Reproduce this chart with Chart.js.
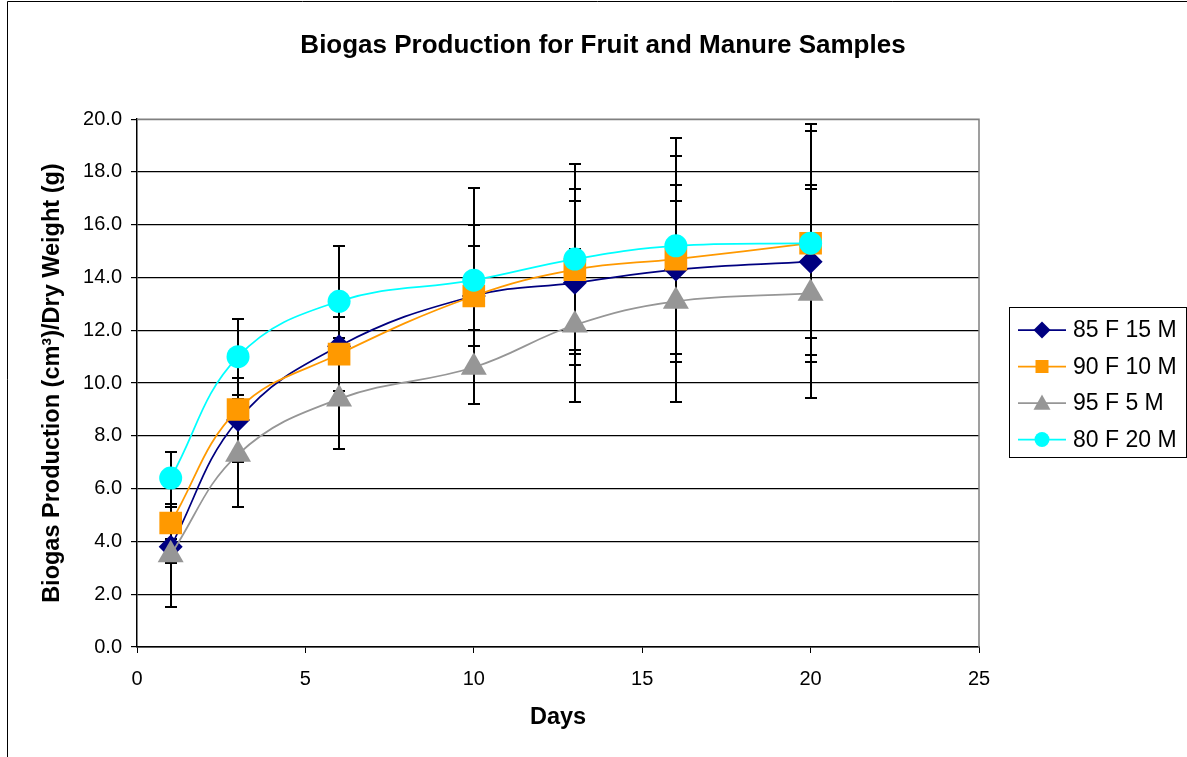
<!DOCTYPE html>
<html lang="en">
<head>
<meta charset="utf-8">
<title>Biogas Production for Fruit and Manure Samples</title>
<script src="https://cdn.jsdelivr.net/npm/chart.js@4.4.1/dist/chart.umd.min.js"></script>
<style>
  html, body { margin: 0; padding: 0; background: #fff; }
  #contenedor { width: 1187px; height: 757px; }
</style>
</head>
<body>
<div id="contenedor"><canvas id="grafica" width="1187" height="757"></canvas></div>
<script>
// Datos: dias y produccion de biogas por mezcla
const dias = [1, 3, 6, 10, 13, 16, 20];

const mezcla85F15M = [3.8, 8.6, 11.4, 13.3, 13.8, 14.3, 14.6];
const mezcla90F10M = [4.7, 9.0, 11.1, 13.3, 14.3, 14.7, 15.3];
const mezcla95F5M = [3.5, 7.3, 9.4, 10.6, 12.2, 13.1, 13.4];
const mezcla80F20M = [6.4, 11.0, 13.1, 13.9, 14.7, 15.2, 15.3];

// barras de error (+/-) de cada mezcla
const error85F15M = [2.3, 1.6, 0.3, 1.9, 3.1, 3.2, 2.9];
const error90F10M = [0.6, 0.4, 1.4, 2.7, 3.05, 3.9, 4.25];
const error95F5M = [0.3, 2.0, 1.9, 1.4, 2.9, 3.8, 3.95];
const error80F20M = [1.0, 1.44, 2.1, 3.5, 3.6, 4.1, 4.5];

const etiquetas = ['85 F 15 M', '90 F 10 M', '95 F 5 M', '80 F 20 M'];
const ticksX = [0, 5, 10, 15, 20, 25];

const fuente = '"Liberation Sans", Arial, Helvetica, sans-serif';

// estilo de cada serie (color, marcador, tamaño)
const estilos = [
  { color: '#000080', forma: 'rectRot', radio: 12, orden: 3 },
  { color: '#FF9900', forma: 'rect', radio: 16, orden: 2 },
  { color: '#969696', forma: 'triangle', radio: 15, orden: 1 },
  { color: '#00FFFF', forma: 'circle', radio: 11.5, orden: 0 }
];

const valores = [mezcla85F15M, mezcla90F10M, mezcla95F5M, mezcla80F20M];
const errores = [error85F15M, error90F10M, error95F5M, error80F20M];

const datasets = valores.map((serie, i) => ({
  label: etiquetas[i],
  data: serie.map((v, j) => ({ x: dias[j], y: v })),
  borderColor: estilos[i].color,
  backgroundColor: estilos[i].color,
  borderWidth: 1.75,
  pointStyle: estilos[i].forma,
  pointRadius: estilos[i].radio,
  pointBorderWidth: 0,
  pointBackgroundColor: estilos[i].color,
  tension: 0.4,
  order: estilos[i].orden
}));

// dibuja las barras de error por debajo de las series
const barrasError = {
  id: 'barrasError',
  beforeDatasetsDraw(chart) {
    const ctx = chart.ctx;
    const ejeX = chart.scales.x;
    const ejeY = chart.scales.y;
    ctx.save();
    ctx.strokeStyle = '#000';
    ctx.lineWidth = 2;
    valores.forEach((serie, i) => {
      serie.forEach((v, j) => {
        const e = errores[i][j];
        const px = Math.round(ejeX.getPixelForValue(dias[j]));
        const arriba = Math.round(ejeY.getPixelForValue(v + e));
        const abajo = Math.round(ejeY.getPixelForValue(v - e));
        ctx.beginPath();
        ctx.moveTo(px, arriba);
        ctx.lineTo(px, abajo);
        ctx.moveTo(px - 6, arriba);
        ctx.lineTo(px + 6, arriba);
        ctx.moveTo(px - 6, abajo);
        ctx.lineTo(px + 6, abajo);
        ctx.stroke();
      });
    });
    ctx.restore();
  }
};

// borde gris del area de trazado y marco exterior
const bordes = {
  id: 'bordes',
  beforeDatasetsDraw(chart) {
    const { ctx, chartArea } = chart;
    ctx.save();
    ctx.strokeStyle = '#808080';
    ctx.lineWidth = 1.5;
    ctx.beginPath();
    ctx.moveTo(chartArea.left, chartArea.top);
    ctx.lineTo(chartArea.right, chartArea.top);
    ctx.lineTo(chartArea.right, chartArea.bottom);
    ctx.stroke();
    ctx.restore();
  },
  afterDraw(chart) {
    const ctx = chart.ctx;
    ctx.save();
    ctx.strokeStyle = '#000';
    ctx.lineWidth = 1;
    ctx.beginPath();
    ctx.moveTo(7.5, chart.height);
    ctx.lineTo(7.5, 1.5);
    ctx.lineTo(chart.width, 1.5);
    ctx.stroke();
    ctx.restore();
  }
};

function dibujarMarcador(ctx, forma, x, y, r) {
  ctx.beginPath();
  if (forma === 'rectRot') {
    ctx.moveTo(x, y - r);
    ctx.lineTo(x + r, y);
    ctx.lineTo(x, y + r);
    ctx.lineTo(x - r, y);
  } else if (forma === 'rect') {
    ctx.rect(x - r, y - r, 2 * r, 2 * r);
  } else if (forma === 'triangle') {
    ctx.moveTo(x, y - r);
    ctx.lineTo(x + r, y + r * 0.8);
    ctx.lineTo(x - r, y + r * 0.8);
  } else {
    ctx.arc(x, y, r, 0, Math.PI * 2);
  }
  ctx.closePath();
  ctx.fill();
}

// leyenda a la derecha con linea y marcador
const leyenda = {
  id: 'leyenda',
  afterDraw(chart) {
    const ctx = chart.ctx;
    const caja = { x: 1009.5, y: 307.5, w: 177, h: 150 };
    const tamanos = [8.5, 6.5, 8.5, 7.5];
    ctx.save();
    ctx.strokeStyle = '#000';
    ctx.lineWidth = 1;
    ctx.strokeRect(caja.x, caja.y, caja.w, caja.h);
    ctx.font = '23px ' + fuente;
    ctx.textBaseline = 'middle';
    ctx.textAlign = 'left';
    etiquetas.forEach((texto, i) => {
      const yc = 330 + i * 36.5;
      ctx.strokeStyle = estilos[i].color;
      ctx.fillStyle = estilos[i].color;
      ctx.lineWidth = 1.75;
      ctx.beginPath();
      ctx.moveTo(1018, yc);
      ctx.lineTo(1066, yc);
      ctx.stroke();
      dibujarMarcador(ctx, estilos[i].forma, 1042, yc, tamanos[i]);
      ctx.fillStyle = '#000';
      ctx.fillText(texto, 1073, yc + 1);
    });
    ctx.restore();
  }
};

const ctx = document.getElementById('grafica').getContext('2d');

new Chart(ctx, {
  type: 'line',
  data: { datasets: datasets },
  options: {
    responsive: false,
    animation: false,
    layout: { padding: { left: 19, right: 0, top: 0, bottom: 0 } },
    plugins: {
      legend: { display: false },
      tooltip: { enabled: false },
      title: {
        display: true,
        text: 'Biogas Production for Fruit and Manure Samples',
        color: '#000',
        font: { family: fuente, size: 26, weight: 'bold' },
        padding: { top: 30, bottom: 58 }
      }
    },
    scales: {
      x: {
        type: 'linear',
        min: 0,
        max: 25,
        afterBuildTicks: (eje) => { eje.ticks = ticksX.map(v => ({ value: v })); },
        afterFit: (eje) => { eje.height = 110; },
        grid: { drawOnChartArea: false, drawTicks: true, tickLength: 6, color: '#000', tickColor: '#000' },
        border: { color: '#000', width: 1.5 },
        ticks: { color: '#000', font: { family: fuente, size: 20 }, padding: 14, maxRotation: 0 },
        title: {
          display: true,
          text: 'Days',
          color: '#000',
          font: { family: fuente, size: 23.5, weight: 'bold' },
          padding: { top: 0, bottom: 25 }
        }
      },
      y: {
        type: 'linear',
        position: 'left',
        min: 0,
        max: 20,
        afterFit: (eje) => { eje.width = 118; },
        grid: {
          color: (c) => (c.tick && c.tick.value === 20 ? '#808080' : '#000'),
          lineWidth: 1.2,
          tickLength: 6,
          tickColor: '#000'
        },
        border: { color: '#000', width: 1.5 },
        ticks: {
          stepSize: 2,
          color: '#000',
          font: { family: fuente, size: 20 },
          padding: 9,
          callback: (v) => v.toFixed(1)
        },
        title: {
          display: true,
          text: 'Biogas Production (cm³)/Dry Weight (g)',
          color: '#000',
          font: { family: fuente, size: 23.5, weight: 'bold' },
          padding: { top: 19, bottom: 0 }
        }
      },
      hueco: {
        type: 'linear',
        position: 'right',
        grid: { display: false },
        ticks: { display: false },
        border: { display: false },
        afterFit: (eje) => { eje.width = 208; }
      }
    }
  },
  plugins: [barrasError, bordes, leyenda]
});
</script>
</body>
</html>
